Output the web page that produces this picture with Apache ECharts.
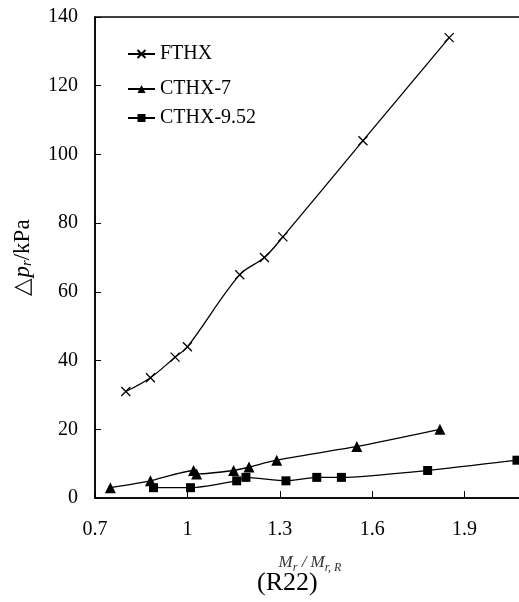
<!DOCTYPE html>
<html>
<head>
<meta charset="utf-8">
<script src="https://cdn.jsdelivr.net/npm/echarts@6/dist/echarts.min.js"></script>
<style>
  html, body { margin: 0; padding: 0; background: #fff; }
  #chart { width: 519px; height: 602px; }
</style>
</head>
<body>
<div id="chart"></div>
<script>
// 数据
var seriesNames = ['FTHX', 'CTHX-7', 'CTHX-9.52'];
var fthx = [[0.80, 31], [0.88, 35], [0.96, 41], [1.00, 44], [1.17, 65], [1.25, 70], [1.31, 76], [1.57, 104], [1.85, 134]];
var cthx7 = [[0.75, 3], [0.88, 5], [1.02, 8], [1.03, 7], [1.15, 8], [1.20, 9], [1.29, 11], [1.55, 15], [1.82, 20]];
var cthx952 = [[0.89, 3], [1.01, 3], [1.16, 5], [1.19, 6], [1.32, 5], [1.42, 6], [1.50, 6], [1.78, 8], [2.07, 11]];

var font = 'Liberation Serif, Times New Roman, serif';
var crossPath = 'path://M0,0L10,10M10,0L0,10';

function legendAt(name, top) {
    return {
        data: [name],
        left: 127,
        top: top,
        padding: 0,
        itemWidth: 27,
        itemHeight: 10,
        textStyle: { fontFamily: font, fontSize: 20, color: '#000' }
    };
}

option = {
    backgroundColor: '#fff',
    animation: false,
    legend: [
        legendAt('FTHX', 44),
        legendAt('CTHX-7', 79),
        legendAt('CTHX-9.52', 108)
    ],
    grid: {
        left: 95,
        top: 17,
        bottom: 104,
        right: -38,
        outerBoundsMode: 'none',
        show: true,
        borderColor: '#000',
        borderWidth: 1.5
    },
    xAxis: {
        type: 'value',
        min: 0.7,
        max: 2.2,
        interval: 0.3,
        name: '{i|M}{s|r}{n| / }{i|M}{s|r, R}',
        nameLocation: 'middle',
        nameGap: 54,
        nameTextStyle: {
            padding: [0, 32, 0, 0],
            rich: {
                i: { fontFamily: font, fontStyle: 'italic', fontSize: 17, color: '#333' },
                s: { fontFamily: font, fontStyle: 'italic', fontSize: 12, color: '#333', padding: [10, 0, 0, 0] },
                n: { fontFamily: font, fontStyle: 'italic', fontSize: 17, color: '#333' }
            }
        },
        axisLine: { lineStyle: { color: '#000', width: 1.5 } },
        axisTick: { inside: true, length: 7, lineStyle: { color: '#000', width: 1 } },
        axisLabel: {
            margin: 22,
            fontFamily: font,
            fontSize: 20,
            color: '#000',
            formatter: function (v) { return String(+v.toFixed(1)); }
        },
        splitLine: { show: false }
    },
    yAxis: {
        type: 'value',
        min: 0,
        max: 140,
        interval: 20,
        name: '{n|△}{i|p}{s|r}{n|/kPa}',
        nameLocation: 'middle',
        nameRotate: 90,
        nameGap: 48,
        nameTextStyle: {
            padding: [0, 0, 12, 0],
            rich: {
                n: { fontFamily: font, fontSize: 23, color: '#000' },
                i: { fontFamily: font, fontStyle: 'italic', fontSize: 23, color: '#000' },
                s: { fontFamily: font, fontStyle: 'italic', fontSize: 15, color: '#000', padding: [10, 0, 0, 0] }
            }
        },
        axisLine: { show: true, lineStyle: { color: '#000', width: 1.5 } },
        axisTick: { show: true, inside: true, length: 6, lineStyle: { color: '#000', width: 1 } },
        axisLabel: { margin: 17, fontFamily: font, fontSize: 20, color: '#000' },
        splitLine: { show: false }
    },
    graphic: [{
        type: 'text',
        left: 257,
        top: 570,
        style: { text: '(R22)', fontFamily: font, fontSize: 26, fill: '#000' }
    }],
    series: [{
        name: seriesNames[0],
        type: 'line',
        smooth: 0.35,
        data: fthx,
        symbol: crossPath,
        symbolSize: 9,
        lineStyle: { color: '#000', width: 1.3 },
        itemStyle: { color: 'none', borderColor: '#000', borderWidth: 1.3 }
    }, {
        name: seriesNames[1],
        type: 'line',
        smooth: 0.2,
        data: cthx7,
        symbol: 'triangle',
        symbolSize: 11,
        lineStyle: { color: '#000', width: 1.3 },
        itemStyle: { color: '#000' }
    }, {
        name: seriesNames[2],
        type: 'line',
        smooth: 0.2,
        data: cthx952,
        symbol: 'rect',
        symbolSize: 9,
        lineStyle: { color: '#000', width: 1.3 },
        itemStyle: { color: '#000' }
    }]
};

var myChart = echarts.init(document.getElementById('chart'));
myChart.setOption(option);
</script>
</body>
</html>
